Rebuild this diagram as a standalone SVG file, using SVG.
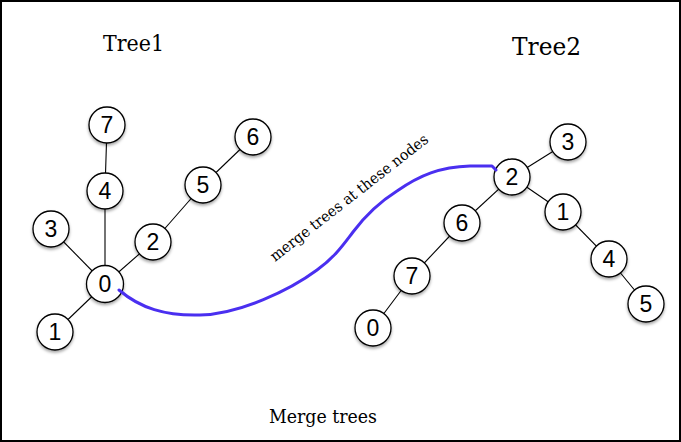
<svg xmlns="http://www.w3.org/2000/svg" width="681" height="442" viewBox="0 0 681 442">
<defs>
<filter id="sh" x="-30%" y="-30%" width="160%" height="170%">
<feDropShadow dx="0" dy="2" stdDeviation="1.5" flood-color="#000" flood-opacity="0.35"/>
</filter>
<style>
.n circle{fill:#fff;stroke:#000;stroke-width:1.3;filter:url(#sh)}
.n text{font-family:"Liberation Sans",Arial,sans-serif;font-size:23px;text-anchor:middle;fill:#000}
.e line{stroke:#000;stroke-width:1.1}
.t{font-family:"DejaVu Serif","Liberation Serif",serif;fill:#000}
</style>
</defs>
<rect x="0" y="0" width="681" height="442" fill="#fff"/>
<rect x="1" y="1" width="679" height="440" fill="none" stroke="#000" stroke-width="2"/>
<text class="t" x="103" y="51" font-size="23" textLength="61" lengthAdjust="spacingAndGlyphs">Tree1</text>
<text class="t" x="512" y="55" font-size="24" textLength="69" lengthAdjust="spacingAndGlyphs">Tree2</text>
<text class="t" x="269" y="423" font-size="18.5" textLength="108" lengthAdjust="spacingAndGlyphs">Merge trees</text>
<g id="connectors">
<g class="e">
<line x1="105" y1="284" x2="55" y2="332"/>
<line x1="105" y1="284" x2="51" y2="229"/>
<line x1="105" y1="284" x2="105" y2="191"/>
<line x1="105" y1="191" x2="107" y2="125"/>
<line x1="105" y1="284" x2="153" y2="242"/>
<line x1="153" y1="242" x2="203" y2="185"/>
<line x1="203" y1="185" x2="253" y2="137"/>
<line x1="512" y1="177" x2="568" y2="142"/>
<line x1="512" y1="177" x2="462" y2="223"/>
<line x1="462" y1="223" x2="412" y2="276"/>
<line x1="412" y1="276" x2="373" y2="328"/>
<line x1="512" y1="177" x2="563" y2="212"/>
<line x1="563" y1="212" x2="609" y2="259"/>
<line x1="609" y1="259" x2="646" y2="304"/>
</g>
</g>
<g class="n">
<g id="t1-7"><circle cx="107" cy="125" r="18"/><text x="107" y="133">7</text></g>
<g id="t1-4"><circle cx="105" cy="191" r="18"/><text x="105" y="199">4</text></g>
<g id="t1-3"><circle cx="51" cy="229" r="18"/><text x="51" y="237">3</text></g>
<g id="t1-2"><circle cx="153" cy="242" r="18"/><text x="153" y="250">2</text></g>
<g id="t1-5"><circle cx="203" cy="185" r="18"/><text x="203" y="193">5</text></g>
<g id="t1-6"><circle cx="253" cy="137" r="18"/><text x="253" y="145">6</text></g>
<g id="t1-0"><circle cx="105" cy="284" r="18.5"/><text x="105" y="292">0</text></g>
<g id="t1-1"><circle cx="55" cy="332" r="18"/><text x="55" y="340">1</text></g>
<g id="t2-3"><circle cx="568" cy="142" r="18"/><text x="568" y="150">3</text></g>
<g id="t2-2"><circle cx="512" cy="177" r="18"/><text x="512" y="185">2</text></g>
<g id="t2-6"><circle cx="462" cy="223" r="18"/><text x="462" y="231">6</text></g>
<g id="t2-1"><circle cx="563" cy="212" r="18"/><text x="563" y="220">1</text></g>
<g id="t2-7"><circle cx="412" cy="276" r="18"/><text x="412" y="284">7</text></g>
<g id="t2-4"><circle cx="609" cy="259" r="18"/><text x="609" y="267">4</text></g>
<g id="t2-0"><circle cx="373" cy="328" r="18"/><text x="373" y="336">0</text></g>
<g id="t2-5"><circle cx="646" cy="304" r="18"/><text x="646" y="312">5</text></g>
</g>
<g id="merge-link">
<path d="M119,290 C140,308 165,316 200,315 C240,314 290,290 317,270 C335,257 343,245 353,232 C365,216 378,203 397,191 C420,175 440,167 470,166 L492,166 L496,170" fill="none" stroke="#4a2ff0" stroke-width="3" stroke-linecap="round" stroke-linejoin="round"/>
<text class="t" font-size="15" transform="translate(275,262) rotate(-38)" textLength="196" lengthAdjust="spacingAndGlyphs">merge trees at these nodes</text>
</g>
</svg>
